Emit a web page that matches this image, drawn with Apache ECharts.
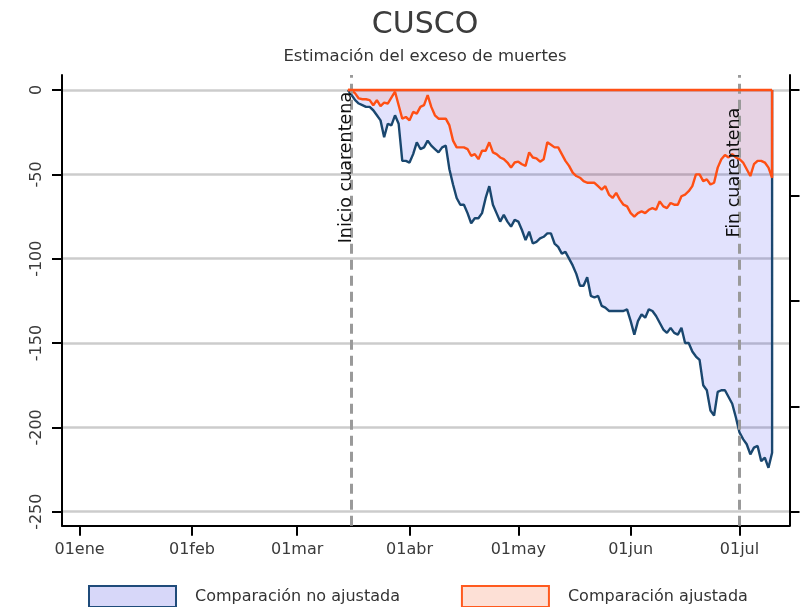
<!DOCTYPE html>
<html>
<head>
<meta charset="utf-8">
<script src="https://cdn.jsdelivr.net/npm/echarts@6/dist/echarts.min.js"></script>
<style>
html,body{margin:0;padding:0;background:#fff;}
#chart{width:812px;height:607px;}
</style>
</head>
<body>
<div id="chart"></div>
<script>
// ---- data (daily, from 15 Mar 2020 to 10 Jul 2020) ----
const firstDay = [2020, 2, 15];
const blueValues = [
  0, -3, -6, -8, -9, -10, -10, -12, -15, -18, -28, -20, -21, -15, -20, -42, -42,
  -43, -38, -31, -35, -34, -30, -33, -35, -37, -34, -33, -47, -56, -64, -68, -68, -73, -79, -76, -76,
  -73, -64, -57, -68, -73, -78, -74, -78, -81, -77,
  -78, -83, -89, -84, -91, -90, -88, -87, -85, -85, -91, -93, -97, -96, -100, -104, -109, -116, -116, -111,
  -122, -123, -122, -128, -129, -131, -131, -131, -131, -131, -130,
  -137, -145, -137, -133, -135, -130, -131, -134, -138, -142, -144, -141, -144, -145, -141, -150, -150, -155,
  -158, -160, -175, -178, -190, -193, -179, -178, -178, -182, -186, -194,
  -203, -207, -210, -216, -212, -211, -220, -218, -224, -215
];
const orangeValues = [
  0, 0, -2, -5, -5.5, -5.5, -6, -9, -6, -9.5, -7.5, -8, -4.5, -1, -9, -17, -16,
  -18, -13, -14, -10, -9, -3, -10, -15, -17, -17, -17, -21, -30, -34, -34, -34, -35, -39, -38, -41,
  -36, -36, -31, -37, -38, -40, -41, -43, -46, -43,
  -42.5, -44, -45, -37, -40, -40.5, -42.5, -41, -31, -32.5, -34, -34, -38, -42, -45, -49, -51, -52, -54, -55,
  -55, -55, -57, -59, -57, -62, -64, -61, -65, -68, -69,
  -73, -75, -73, -72, -73, -71, -70, -71, -66, -69, -70, -67, -68, -68, -63, -62, -60, -57,
  -50, -50, -54, -53, -56, -55, -46, -41, -38.5, -40, -38, -40,
  -41, -43, -47, -51, -44, -42, -42, -43, -46, -52
];
const seriesNames = ['Comparación no ajustada', 'Comparación ajustada'];
const monthTicks = [[2020,0,1],[2020,1,1],[2020,2,1],[2020,3,1],[2020,4,1],[2020,5,1],[2020,6,1]];
const monthNames = ['ene','feb','mar','abr','may','jun','jul','ago','sep','oct','nov','dic'];
const yTicks = [0, -50, -100, -150, -200, -250];
const yTicksRight = [0, -62.5, -125, -187.5, -250];
const quarantineDates = [[2020,2,16],[2020,6,1]];
const quarantineLabels = ['Inicio cuarentena', 'Fin cuarentena'];
const quarantineLabelY = [-46, -49];
const titleText = 'CUSCO';
const subtitleText = 'Estimación del exceso de muertes';

// ---- build: x = days since 1 Jan 2020 ----
const DAY = 86400000;
const ORIGIN = Date.UTC(2020, 0, 1);
const toDay = a => Math.round((Date.UTC(a[0], a[1], a[2]) - ORIGIN) / DAY);
const fromDay = n => new Date(ORIGIN + n * DAY);
const day0 = toDay(firstDay);
const days = blueValues.map((_, i) => day0 + i);
const firstX = days[0], lastX = days[days.length - 1];
const blueData = days.map((d, i) => [d, blueValues[i]]).concat([[lastX, 0]]);
const orangeData = days.map((d, i) => [d, orangeValues[i]]).concat([[lastX, 0]]);
const monthTickDays = monthTicks.map(toDay);
const xMin = -4.85, xMax = 195.8;
const yMin = -258.3, yMax = 8.9;
const FONT = 'DejaVu Sans';
const BLUE = '#1a476f', ORANGE = '#ff4f14';

const chart = echarts.init(document.getElementById('chart'), null, {renderer: 'canvas'});
chart.setOption({
  animation: false,
  textStyle: {fontFamily: FONT},
  title: [
    {text: titleText, left: 425, textAlign: 'center', top: 10, padding: 0,
     textStyle: {fontFamily: FONT, fontSize: 30, fontWeight: 'normal', color: '#3c3c3c'}},
    {text: subtitleText, left: 425, textAlign: 'center', top: 48, padding: 0,
     textStyle: {fontFamily: FONT, fontSize: 16.5, fontWeight: 'normal', color: '#333'}}
  ],
  grid: {left: 62, right: 22.5, top: 75, bottom: 81.3, containLabel: false},
  legend: {
    left: 88, top: 585, padding: 0, itemWidth: 87, itemHeight: 21, itemGap: 61,
    textStyle: {fontFamily: FONT, fontSize: 16, color: '#333', padding: [0, 0, 0, 14]},
    data: [
      {name: seriesNames[0], icon: 'rect', itemStyle: {color: '#d7d7f9', borderColor: '#1f4b7a', borderWidth: 2}},
      {name: seriesNames[1], icon: 'rect', itemStyle: {color: '#fde0d6', borderColor: '#ff5a1f', borderWidth: 2}}
    ]
  },
  xAxis: {
    type: 'value', min: xMin, max: xMax,
    axisLine: {show: true, onZero: false, lineStyle: {color: '#000', width: 2}},
    axisTick: {show: true, inside: false, length: 10, lineStyle: {color: '#000', width: 2},
               customValues: monthTickDays},
    axisLabel: {show: true, margin: 16, fontFamily: FONT, fontSize: 16, color: '#3a3a3a',
                customValues: monthTickDays,
                formatter: v => { const d = fromDay(v); return '01' + monthNames[d.getUTCMonth()]; }},
    splitLine: {show: false}
  },
  yAxis: [
    {
      type: 'value', min: yMin, max: yMax, position: 'left',
      axisLine: {show: true, onZero: false, lineStyle: {color: '#000', width: 2}},
      axisTick: {show: true, inside: false, length: 10, lineStyle: {color: '#000', width: 2}, customValues: yTicks},
      axisLabel: {show: true, rotate: 90, margin: 17, fontFamily: FONT, fontSize: 16, color: '#3a3a3a', customValues: yTicks},
      splitLine: {show: true, lineStyle: {color: '#cccccc', width: 2.5}}
    },
    {
      type: 'value', min: yMin, max: yMax, position: 'right',
      axisLine: {show: true, onZero: false, lineStyle: {color: '#000', width: 2}},
      axisTick: {show: true, inside: false, length: 10, lineStyle: {color: '#000', width: 2}, customValues: yTicksRight},
      axisLabel: {show: false},
      splitLine: {show: false}
    }
  ],
  series: [
    {
      name: seriesNames[0], type: 'line', yAxisIndex: 0, data: blueData,
      showSymbol: false, symbol: 'none', z: 2,
      lineStyle: {color: BLUE, width: 2.4},
      itemStyle: {color: BLUE},
      areaStyle: {color: 'rgba(0,0,235,0.16)', origin: 0},
      markLine: {
        silent: true, symbol: ['none', 'none'],
        lineStyle: {color: '#9a9a9a', width: 3, type: [10, 6]},
        label: {show: false},
        data: quarantineDates.map(d => ({xAxis: toDay(d)}))
      },
      markPoint: {
        silent: true, symbol: 'circle', symbolSize: 0,
        label: {show: true, position: 'inside', rotate: 90, offset: [0, -5], formatter: '{b}',
                fontFamily: FONT, fontSize: 17.5, color: '#111'},
        data: quarantineDates.map((d, i) => ({name: quarantineLabels[i], coord: [toDay(d), quarantineLabelY[i]]}))
      }
    },
    {
      name: seriesNames[1], type: 'line', yAxisIndex: 0, data: orangeData,
      showSymbol: false, symbol: 'none', z: 3,
      lineStyle: {color: ORANGE, width: 2.4},
      itemStyle: {color: ORANGE},
      areaStyle: {color: 'rgba(255,69,0,0.15)', origin: 0},
      markLine: {
        silent: true, symbol: ['none', 'none'],
        lineStyle: {color: ORANGE, width: 2.4, type: 'solid'},
        label: {show: false},
        data: [[{coord: [firstX, 0]}, {coord: [lastX, 0]}]]
      }
    }
  ]
});
</script>
</body>
</html>
